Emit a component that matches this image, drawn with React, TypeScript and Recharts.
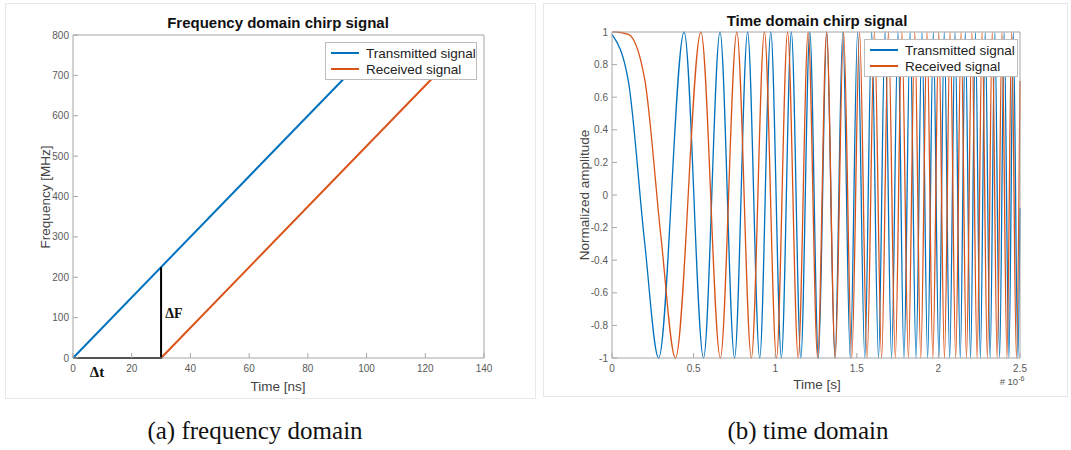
import React from "react";
import { LineChart, Line, XAxis, YAxis } from "recharts";

const FONT = "'Liberation Sans', Arial, Helvetica, sans-serif";
const SERIF = "'Liberation Serif', 'DejaVu Serif', serif";
const BLUE = "#0072BD";
const ORANGE = "#D95319";
const AXIS = "#a6a6a6";
const TICK = "#5a5a5a";

// (a) frequency domain, time in ns, frequency in MHz
const freqTimeTicks = [0, 20, 40, 60, 80, 100, 120, 140];
const freqTicks = [0, 100, 200, 300, 400, 500, 600, 700, 800];
const txFreqTime = [0, 100];
const txFreqValue = [0, 750];
const rxFreqTime = [30, 130];
const rxFreqValue = [0, 750];
// delta t / delta F helper lines
const deltaTime = [0, 30, 30];
const deltaValue = [0, 0, 225];

// (b) time domain, time in units of 1e-6 s (turning points)
const timeTicks = [0, 0.5, 1, 1.5, 2, 2.5];
const ampTicks = [-1, -0.8, -0.6, -0.4, -0.2, 0, 0.2, 0.4, 0.6, 0.8, 1];
const txTime = [
  0, 0.1, 0.2, 0.286, 0.442, 0.561, 0.662, 0.751, 0.831, 0.905, 0.973, 1.038,
  1.099, 1.157, 1.212, 1.265, 1.316, 1.366, 1.414, 1.46, 1.505, 1.549, 1.591,
  1.633, 1.673, 1.713, 1.752, 1.789, 1.827, 1.863, 1.899, 1.934, 1.969, 2.003,
  2.036, 2.069, 2.102, 2.134, 2.165, 2.197, 2.227, 2.257, 2.287, 2.317, 2.346,
  2.375, 2.403, 2.432, 2.459, 2.487, 2.5,
];
const txAmp = [
  0.985, 0.7, -0.29, -1, 1, -1, 1, -1, 1, -1, 1, -1, 1, -1, 1, -1, 1, -1, 1, -1,
  1, -1, 1, -1, 1, -1, 1, -1, 1, -1, 1, -1, 1, -1, 1, -1, 1, -1, 1, -1, 1, -1, 1,
  -1, 1, -1, 1, -1, 1, -1, -0.08,
];
const rxTime = [
  0, 0.013, 0.1, 0.2, 0.3, 0.389, 0.545, 0.664, 0.765, 0.854, 0.934, 1.008,
  1.076, 1.141, 1.202, 1.26, 1.315, 1.368, 1.419, 1.469, 1.517, 1.563, 1.608,
  1.652, 1.694, 1.736, 1.776, 1.816, 1.855, 1.892, 1.93, 1.966, 2.002, 2.037,
  2.072, 2.106, 2.139, 2.172, 2.205, 2.237, 2.268, 2.3, 2.33, 2.36, 2.39, 2.42,
  2.449, 2.478, 2.5,
];
const rxAmp = [
  1, 1, 0.986, 0.713, -0.257, -1, 1, -1, 1, -1, 1, -1, 1, -1, 1, -1, 1, -1, 1,
  -1, 1, -1, 1, -1, 1, -1, 1, -1, 1, -1, 1, -1, 1, -1, 1, -1, 1, -1, 1, -1, 1,
  -1, 1, -1, 1, -1, 1, -1, 0.7,
];

const zip = (xs: number[], ys: number[]) => xs.map((t, i) => ({ t, v: ys[i] }));

const tickStyle = { fill: TICK, fontSize: 10, fontFamily: FONT };
const fmt = (v: number) => String(Math.round(v * 10) / 10);

function Frame({ left, width, height }: { left: number; width: number; height: number }) {
  return (
    <div
      style={{
        position: "absolute",
        left,
        top: 3,
        width,
        height,
        border: "1px solid #e8e8e8",
        boxSizing: "border-box",
      }}
    />
  );
}

function Text({ x, y, children, style }: any) {
  return (
    <div
      style={{
        position: "absolute",
        left: x,
        top: y,
        transform: "translate(-50%, -50%)",
        whiteSpace: "nowrap",
        fontFamily: FONT,
        ...style,
      }}
    >
      {children}
    </div>
  );
}

function LegendBox({ left, top, width, height }: any) {
  const row = (color: string, label: string) => (
    <div style={{ display: "flex", alignItems: "center", height: 16 }}>
      <div style={{ width: 28, height: 0, borderTop: `2px solid ${color}`, marginLeft: 5, marginRight: 7 }} />
      <span style={{ fontSize: 13.5, color: "#222", fontFamily: FONT }}>{label}</span>
    </div>
  );
  return (
    <div
      style={{
        position: "absolute",
        left,
        top,
        width,
        height,
        background: "#fff",
        border: "1px solid #bdbdbd",
        boxSizing: "border-box",
        paddingTop: 2,
      }}
    >
      {row(BLUE, "Transmitted signal")}
      {row(ORANGE, "Received signal")}
    </div>
  );
}

// MATLAB-style box: ticks point inward on all four sides, labels only bottom/left
function boxAxes(xDomain: number[], xTicks: number[], yDomain: number[], yTicks: number[]) {
  return [
    <XAxis
      key="xb"
      xAxisId="b"
      type="number"
      dataKey="t"
      domain={xDomain}
      ticks={xTicks}
      height={1}
      tickSize={-5}
      tickMargin={12}
      interval={0}
      axisLine={{ stroke: AXIS }}
      tickLine={{ stroke: AXIS }}
      tick={tickStyle}
      tickFormatter={fmt}
    />,
    <XAxis
      key="xt"
      xAxisId="t"
      orientation="top"
      type="number"
      dataKey="t"
      domain={xDomain}
      ticks={xTicks}
      height={1}
      tickSize={-5}
      interval={0}
      axisLine={{ stroke: AXIS }}
      tickLine={{ stroke: AXIS }}
      tick={false}
    />,
    <YAxis
      key="yl"
      yAxisId="l"
      type="number"
      domain={yDomain}
      ticks={yTicks}
      width={1}
      tickSize={-5}
      tickMargin={9}
      interval={0}
      axisLine={{ stroke: AXIS }}
      tickLine={{ stroke: AXIS }}
      tick={tickStyle}
      tickFormatter={fmt}
    />,
    <YAxis
      key="yr"
      yAxisId="r"
      orientation="right"
      type="number"
      domain={yDomain}
      ticks={yTicks}
      width={1}
      tickSize={-5}
      interval={0}
      axisLine={{ stroke: AXIS }}
      tickLine={{ stroke: AXIS }}
      tick={false}
    />,
  ];
}

export default function App() {
  return (
    <div style={{ position: "absolute", left: 0, top: 0, width: 1071, height: 450, background: "#fff" }}>
      <Frame left={5} width={531} height={396} />
      <Frame left={543} width={525} height={394} />

      <div style={{ position: "absolute", left: 0, top: 0 }}>
        <LineChart width={540} height={400} margin={{ top: 34, left: 72, right: 55, bottom: 41 }}>
          {boxAxes([0, 140], freqTimeTicks, [0, 800], freqTicks)}
          <Line xAxisId="b" yAxisId="l" data={zip(txFreqTime, txFreqValue)} dataKey="v" type="linear"
            stroke={BLUE} strokeWidth={2} dot={false} isAnimationActive={false} />
          <Line xAxisId="b" yAxisId="l" data={zip(rxFreqTime, rxFreqValue)} dataKey="v" type="linear"
            stroke={ORANGE} strokeWidth={2} dot={false} isAnimationActive={false} />
          <Line xAxisId="b" yAxisId="l" data={zip(deltaTime, deltaValue)} dataKey="v" type="linear"
            stroke="#000" strokeWidth={2} dot={false} isAnimationActive={false} />
        </LineChart>
      </div>

      <div style={{ position: "absolute", left: 540, top: 0 }}>
        <LineChart width={531} height={400} margin={{ top: 31, left: 71, right: 50, bottom: 41 }}>
          {boxAxes([0, 2.5], timeTicks, [-1, 1], ampTicks)}
          <Line xAxisId="b" yAxisId="l" data={zip(txTime, txAmp)} dataKey="v" type="monotoneX"
            stroke={BLUE} strokeWidth={1.3} dot={false} isAnimationActive={false} />
          <Line xAxisId="b" yAxisId="l" data={zip(rxTime, rxAmp)} dataKey="v" type="monotoneX"
            stroke={ORANGE} strokeWidth={1.3} dot={false} isAnimationActive={false} />
        </LineChart>
      </div>

      <LegendBox left={325} top={42} width={152} height={38} />
      <LegendBox left={864} top={39} width={154} height={38} />

      <Text x={278} y={22} style={{ fontSize: 15, fontWeight: "bold", color: "#111" }}>
        Frequency domain chirp signal
      </Text>
      <Text x={817} y={20} style={{ fontSize: 15, fontWeight: "bold", color: "#111" }}>
        Time domain chirp signal
      </Text>
      <Text x={278} y={386} style={{ fontSize: 13.5, color: "#444" }}>Time [ns]</Text>
      <Text x={817} y={384} style={{ fontSize: 13.5, color: "#444" }}>Time [s]</Text>
      <Text x={45} y={197} style={{ fontSize: 13.5, color: "#444", transform: "translate(-50%, -50%) rotate(-90deg)" }}>
        Frequency [MHz]
      </Text>
      <Text x={584} y={195} style={{ fontSize: 13.5, color: "#444", transform: "translate(-50%, -50%) rotate(-90deg)" }}>
        Normalized amplitude
      </Text>
      <Text x={1012} y={381} style={{ fontSize: 9.5, color: "#555" }}>
        # 10<sup style={{ fontSize: 7 }}>-6</sup>
      </Text>

      <Text x={174} y={314} style={{ fontSize: 14, fontWeight: "bold", fontFamily: SERIF, color: "#111" }}>ΔF</Text>
      <Text x={97} y={372} style={{ fontSize: 15, fontWeight: "bold", fontFamily: SERIF, color: "#111" }}>Δt</Text>

      <Text x={255} y={431} style={{ fontSize: 25, fontFamily: SERIF, color: "#111" }}>(a) frequency domain</Text>
      <Text x={808} y={431} style={{ fontSize: 25, fontFamily: SERIF, color: "#111" }}>(b) time domain</Text>
    </div>
  );
}
